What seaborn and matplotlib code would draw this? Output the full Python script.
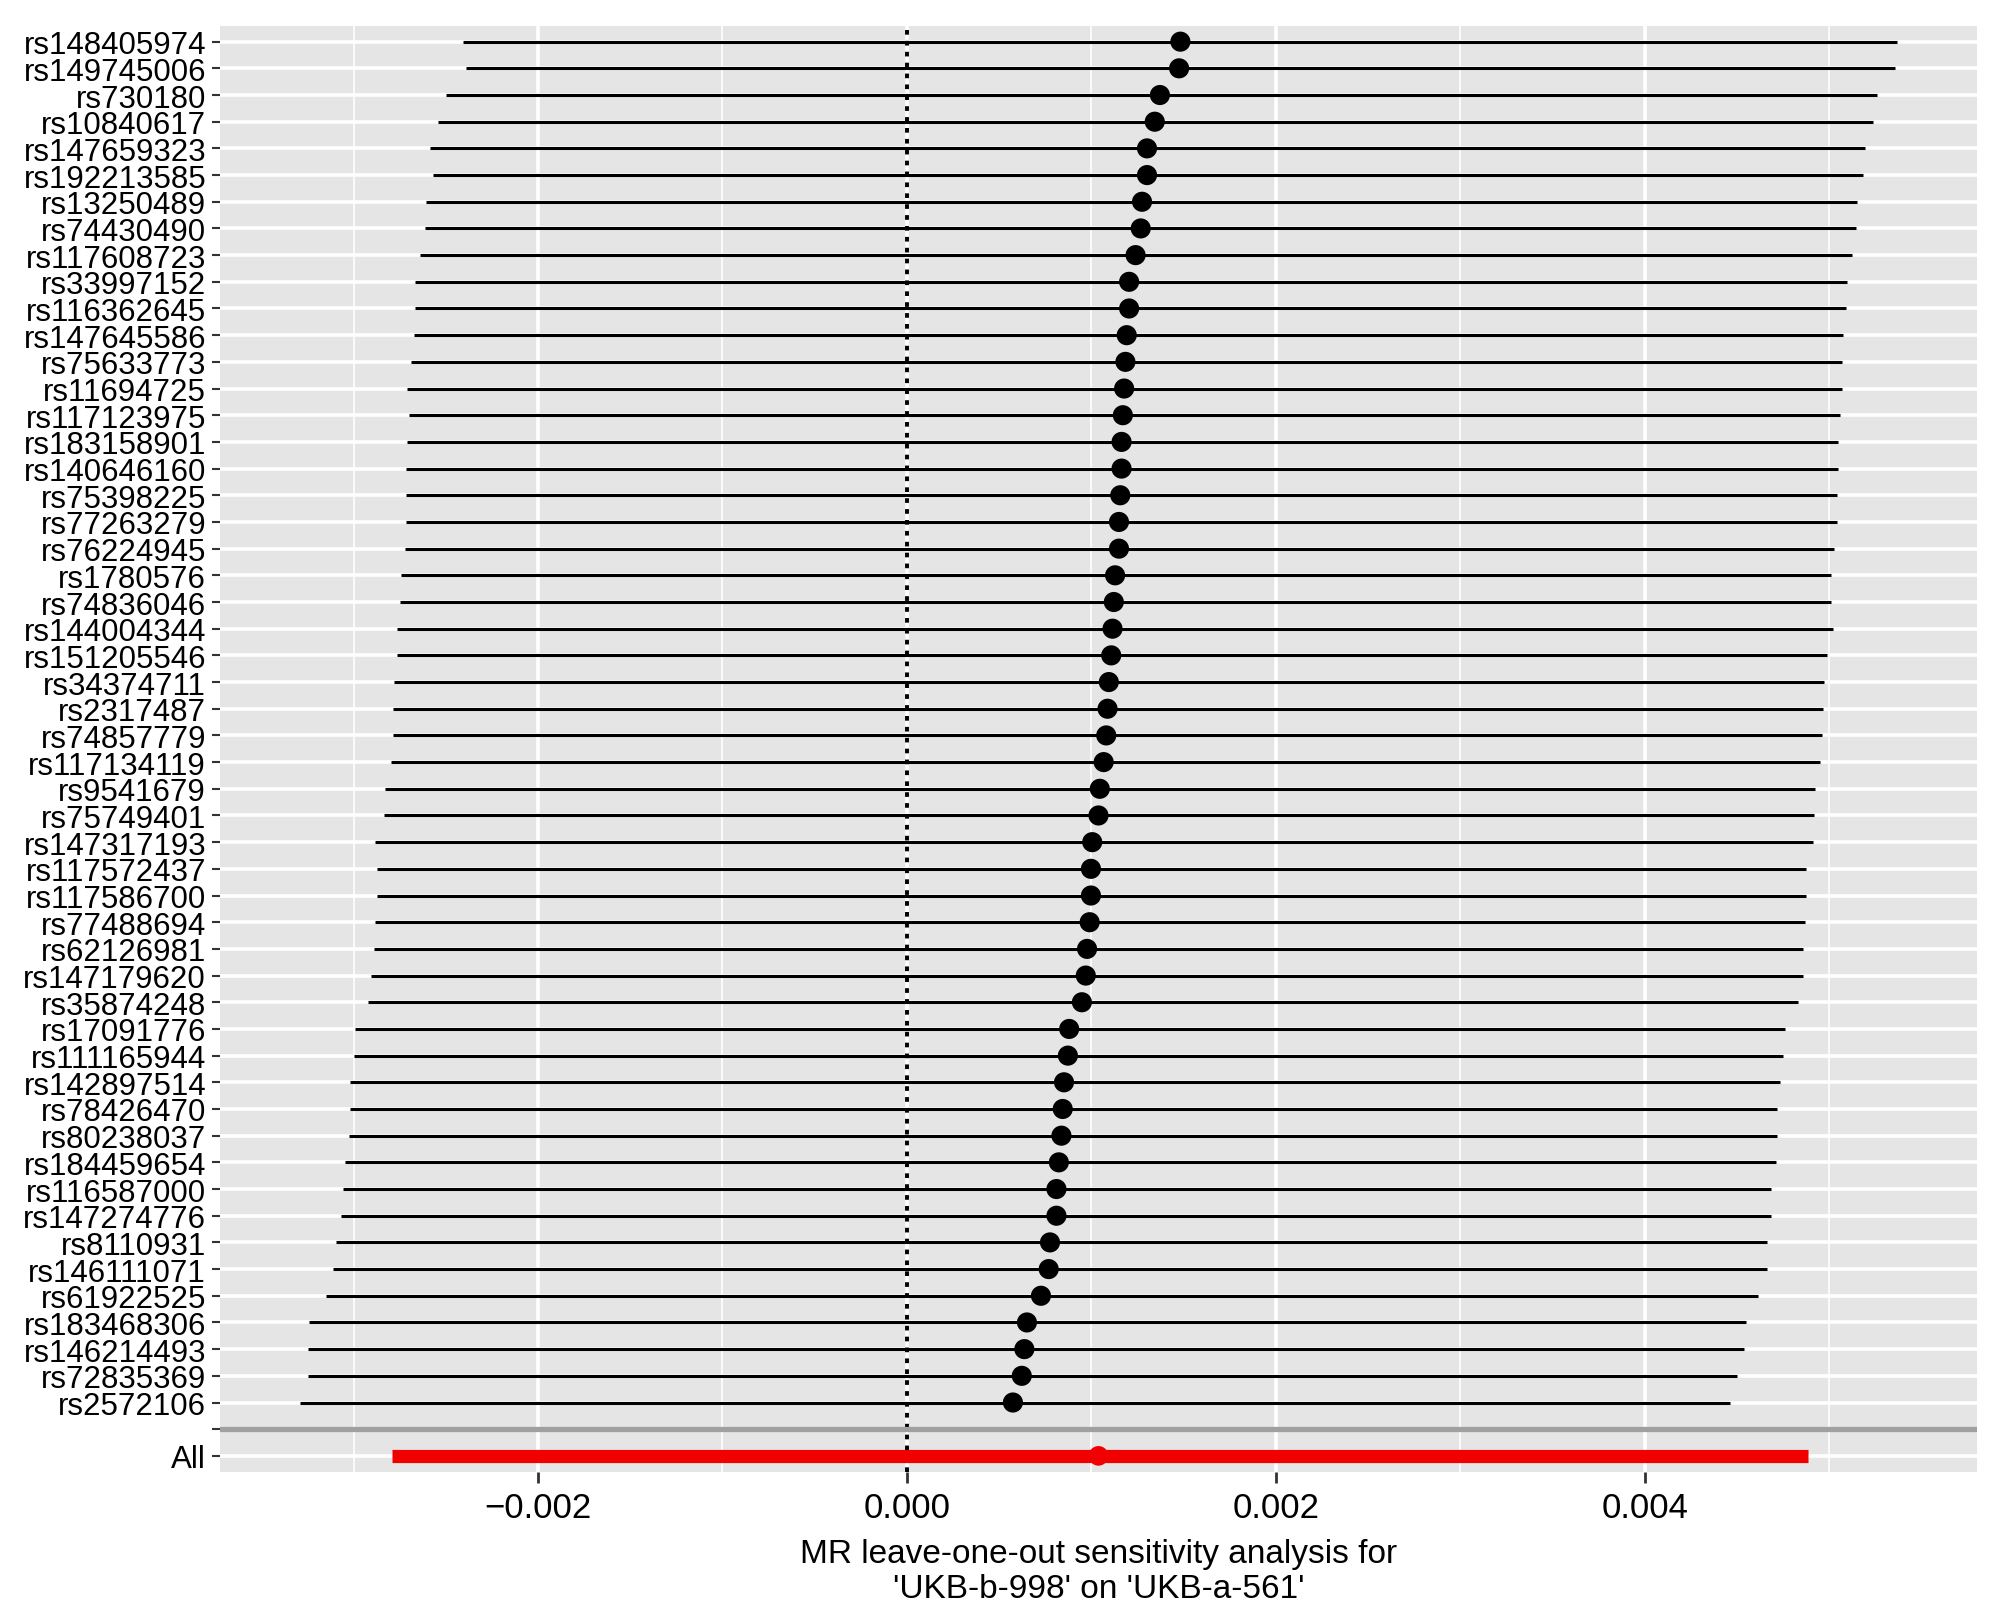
import numpy as np
import pandas as pd
import matplotlib
matplotlib.use("Agg")
import matplotlib.pyplot as plt
import seaborn as sns
from matplotlib.ticker import MultipleLocator, FuncFormatter

snps = ["rs148405974", "rs149745006", "rs730180", "rs10840617", "rs147659323",
        "rs192213585", "rs13250489", "rs74430490", "rs117608723", "rs33997152",
        "rs116362645", "rs147645586", "rs75633773", "rs11694725", "rs117123975",
        "rs183158901", "rs140646160", "rs75398225", "rs77263279", "rs76224945",
        "rs1780576", "rs74836046", "rs144004344", "rs151205546", "rs34374711",
        "rs2317487", "rs74857779", "rs117134119", "rs9541679", "rs75749401",
        "rs147317193", "rs117572437", "rs117586700", "rs77488694", "rs62126981",
        "rs147179620", "rs35874248", "rs17091776", "rs111165944", "rs142897514",
        "rs78426470", "rs80238037", "rs184459654", "rs116587000", "rs147274776",
        "rs8110931", "rs146111071", "rs61922525", "rs183468306", "rs146214493",
        "rs72835369", "rs2572106"]

b = [0.001483, 0.001476, 0.001372, 0.001344, 0.001302, 0.001302, 0.001275, 0.001268,
     0.001240, 0.001205, 0.001205, 0.001192, 0.001185, 0.001178, 0.001171, 0.001164,
     0.001164, 0.001157, 0.001150, 0.001150, 0.001129, 0.001122, 0.001115, 0.001108,
     0.001095, 0.001088, 0.001081, 0.001067, 0.001046, 0.001039, 0.001005, 0.000998,
     0.000998, 0.000991, 0.000977, 0.000970, 0.000949, 0.000880, 0.000873, 0.000852,
     0.000845, 0.000838, 0.000824, 0.000811, 0.000811, 0.000776, 0.000769, 0.000727,
     0.000651, 0.000637, 0.000623, 0.000575]

lo = [-0.002404, -0.002390, -0.002501, -0.002542, -0.002584, -0.002570, -0.002605, -0.002612,
      -0.002639, -0.002667, -0.002667, -0.002674, -0.002688, -0.002709, -0.002702, -0.002709,
      -0.002716, -0.002716, -0.002716, -0.002723, -0.002743, -0.002750, -0.002764, -0.002764,
      -0.002778, -0.002785, -0.002785, -0.002799, -0.002827, -0.002833, -0.002882, -0.002875,
      -0.002875, -0.002882, -0.002889, -0.002903, -0.002923, -0.002993, -0.003000, -0.003020,
      -0.003020, -0.003027, -0.003048, -0.003055, -0.003069, -0.003097, -0.003111, -0.003152,
      -0.003242, -0.003249, -0.003249, -0.003291]

up = [0.005369, 0.005355, 0.005258, 0.005237, 0.005196, 0.005182, 0.005154, 0.005147,
      0.005126, 0.005099, 0.005092, 0.005078, 0.005071, 0.005071, 0.005057, 0.005050,
      0.005050, 0.005043, 0.005043, 0.005029, 0.005009, 0.005009, 0.005023, 0.004988,
      0.004974, 0.004967, 0.004960, 0.004953, 0.004926, 0.004919, 0.004912, 0.004877,
      0.004877, 0.004870, 0.004856, 0.004856, 0.004829, 0.004759, 0.004752, 0.004732,
      0.004718, 0.004718, 0.004711, 0.004683, 0.004683, 0.004662, 0.004662, 0.004614,
      0.004551, 0.004538, 0.004503, 0.004461]

all_b = 0.001039
all_lo = -0.002792
all_up = 0.004884

xlabel = "MR leave-one-out sensitivity analysis for\n'UKB-b-998' on 'UKB-a-561'"

sns.set_theme(style="darkgrid")
plt.rcParams['font.family'] = ['Liberation Sans', 'DejaVu Sans']

n = len(snps)
df = pd.DataFrame({"snp": snps, "b": b, "lo": lo, "up": up})
df["pos"] = n + 1 - np.arange(n)

fig = plt.figure(figsize=(20, 16.15), dpi=100)
ax = fig.add_axes([0.110, 0.088, 0.8785, 0.8955])
ax.set_facecolor("#E5E5E5")

# leave-one-out intervals and estimates
ax.hlines(df["pos"], df["lo"], df["up"], color="black", linewidth=2.2, zorder=3)
sns.scatterplot(data=df, x="b", y="pos", color="black", s=210, edgecolor="none",
                zorder=4, ax=ax, legend=False)

# all snps
ax.hlines(0, all_lo, all_up, color="#F00000", linewidth=9.5, zorder=3)
ax.scatter([all_b], [0], color="#F00000", s=200, edgecolor="none", zorder=4)

ax.axvline(0, color="black", linestyle=(0, (1.2, 1.6)), linewidth=2.8, zorder=2)
ax.axhline(1, color="#A0A0A0", linewidth=3.8, zorder=2)

xmin = min(min(lo), all_lo)
xmax = max(max(up), all_up)
pad = 0.05 * (xmax - xmin)
ax.set_xlim(xmin - pad, xmax + pad)
ax.set_ylim(-0.6, n + 1.6)

ax.xaxis.set_major_locator(MultipleLocator(0.002))
ax.xaxis.set_minor_locator(MultipleLocator(0.001))
ax.xaxis.set_major_formatter(FuncFormatter(lambda v, p: f"{v:.3f}".replace("-", "\u2212")))
ax.set_yticks(list(range(0, n + 2)))
ax.set_yticklabels(["All", ""] + snps[::-1])

ax.grid(which="major", axis="x", color="white", linewidth=2.6)
ax.grid(which="minor", axis="x", color="white", linewidth=1.2)
ax.grid(which="major", axis="y", color="white", linewidth=2.6)
ax.grid(which="minor", axis="y", visible=False)

ax.tick_params(axis="y", labelsize=22.5, length=6, width=1.5, color="#333333",
               labelcolor="black", pad=4, left=True)
ax.tick_params(axis="x", labelsize=25, length=8, width=2, color="#333333",
               labelcolor="black", pad=6, bottom=True)
ax.tick_params(which="minor", length=0)

ax.set_xlabel(xlabel, fontsize=24, labelpad=10, linespacing=1.15, color="black")
ax.set_ylabel("")
for s in ax.spines.values():
    s.set_visible(False)

fig.savefig("out.png", dpi=100)
